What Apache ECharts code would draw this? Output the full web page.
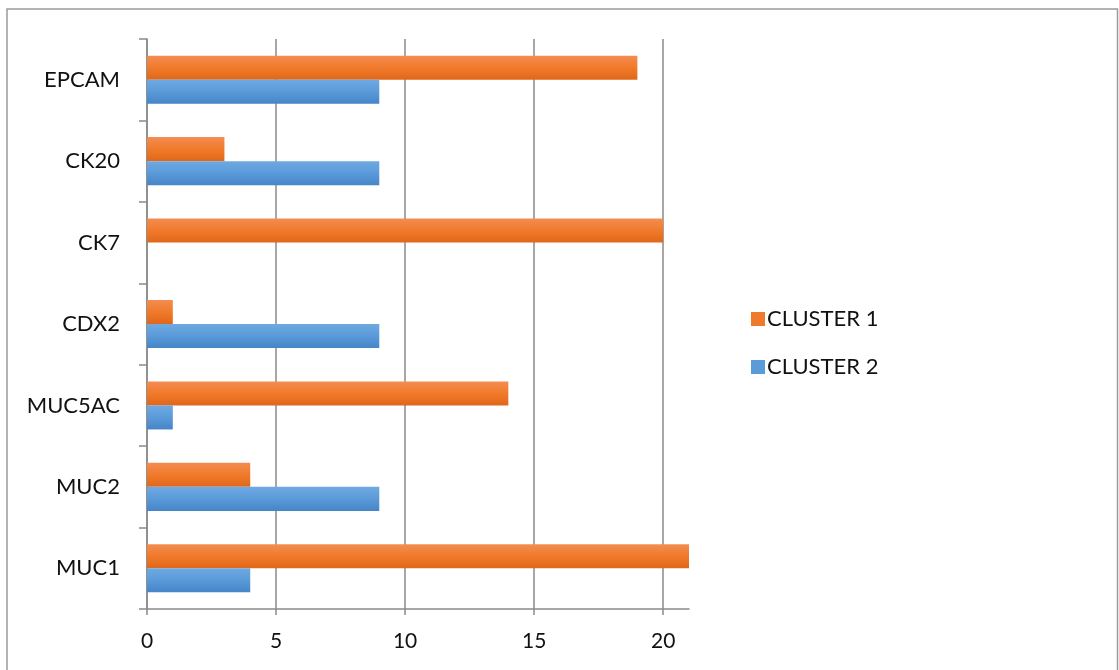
<!DOCTYPE html>
<html><head><meta charset="utf-8">
<script src="https://cdn.jsdelivr.net/npm/echarts@6/dist/echarts.min.js"></script>
<style>html,body{margin:0;padding:0;background:#fff}#c{width:1119px;height:670px}</style>
</head><body><div id="c"></div>
<script>
const categories = ['MUC1','MUC2','MUC5AC','CDX2','CK7','CK20','EPCAM'];
const cluster1 = [21,4,14,1,20,3,19];
const cluster2 = [4,9,1,9,0,9,9];
const xTicks = [0,5,10,15,20];
const seriesNames = ['CLUSTER 1','CLUSTER 2'];

const font = 'Lato';
const chart = echarts.init(document.getElementById('c'));
const orange = new echarts.graphic.LinearGradient(0,0,0,1,[{offset:0,color:'#F38D52'},{offset:0.5,color:'#F07A2A'},{offset:1,color:'#E0671A'}]);
const blue = new echarts.graphic.LinearGradient(0,0,0,1,[{offset:0,color:'#6EA9E2'},{offset:0.5,color:'#5B9AD9'},{offset:1,color:'#4585C8'}]);
chart.setOption({
  animation:false,
  graphic:[{type:'rect',shape:{x:7,y:9,width:1110.5,height:700},style:{fill:'none',stroke:'#9a9a9a',lineWidth:1.5},silent:true,z:-1}],
  grid:{left:147,top:39,right:430,bottom:61},
  legend:{orient:'vertical',left:746,top:303,itemWidth:14,itemHeight:14,itemGap:26,icon:'rect',
    data:[{name:seriesNames[0],itemStyle:{color:'#EE7A2E'}},{name:seriesNames[1],itemStyle:{color:'#5B9BD9'}}],
    textStyle:{fontFamily:font,fontSize:22,color:'#111',padding:[0,0,0,-3]}},
  xAxis:{type:'value',min:0,max:21,interval:5,
    axisLine:{show:true,lineStyle:{color:'#8a8a8a',width:1.5}},
    axisTick:{show:true,length:6,customValues:xTicks,lineStyle:{color:'#8a8a8a',width:1.5}},
    axisLabel:{customValues:xTicks,fontFamily:font,fontSize:21,color:'#111',margin:22},
    splitLine:{show:true,lineStyle:{color:'#8a8a8a',width:1.5}}},
  yAxis:{type:'category',data:categories,
    axisLine:{show:true,lineStyle:{color:'#8a8a8a',width:1.5}},
    axisTick:{show:true,length:8,lineStyle:{color:'#8a8a8a',width:1.5}},
    axisLabel:{fontFamily:font,fontSize:22,color:'#111',margin:27}},
  series:[
    {name:seriesNames[0],type:'bar',data:cluster1,barGap:'0%',barCategoryGap:'41%',itemStyle:{color:orange}},
    {name:seriesNames[1],type:'bar',data:cluster2,barGap:'0%',barCategoryGap:'41%',itemStyle:{color:blue}}
  ]
});
</script></body></html>
